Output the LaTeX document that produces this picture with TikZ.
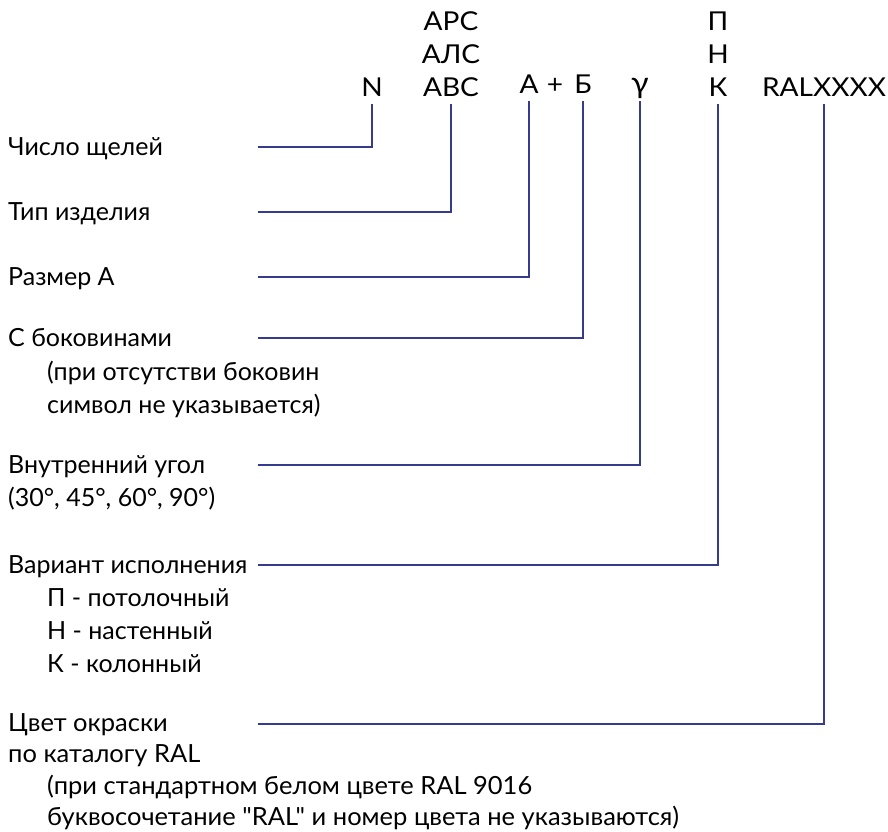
\documentclass[tikz,border=0pt]{standalone}
\usepackage{fontspec}
\setmainfont{Lato}
\newfontfamily\ralfont[FakeStretch=1.02]{Lato}
\newfontfamily\codefont[FakeStretch=1.08]{Lato}
\usetikzlibrary{positioning}
\definecolor{leadblue}{HTML}{363B8E}

\begin{document}
\begin{tikzpicture}[x=1pt,y=-1pt,
  txt/.style={anchor=base west,inner sep=0pt,font=\fontsize{25}{30}\selectfont},
  ntxt/.style={txt,font=\ralfont\fontsize{25}{30}\selectfont},
  code/.style={anchor=base,inner xsep=0pt,inner ysep=8pt,text depth=0pt,
    font=\codefont\fontsize{26}{30}\selectfont},
  lead/.style={draw=leadblue,line width=2.2pt}]
  \useasboundingbox (0,0) rectangle (888,831);

  % code on top
  \node[code] (nN) at (372,96) {N};
  \node[code] (nT3) at (451,96) {АВС};
  \node[code] (nT2) at (451,63) {АЛС};
  \node[code] (nT1) at (451,30) {АРС};
  \node[code] (nA) at (529,93) {А};
  \node[code] (nPlus) at (555,93) {+};
  \node[code] (nB) at (583,93) {Б};
  \node[code,font=\codefont\fontsize{30}{30}\selectfont] (nG) at (640,93) {γ};
  \node[code] (nK) at (718,96) {К};
  \node[code] (nH) at (718,63) {Н};
  \node[code] (nP) at (718,30) {П};
  \node[code] (nRAL) at (824,96) {RALXXXX};

  % explanations
  \node[txt] (l1) at (8,155) {Число щелей};
  \node[txt] (l2) at (8,220) {Тип изделия};
  \node[txt] (l3) at (8,285) {Размер А};
  \node[txt] (l4) at (8,346) {С боковинами};
  \node[txt] (l4a) at (47,380) {(при отсутстви боковин};
  \node[txt] (l4b) at (47,413) {символ не указывается)};
  \node[txt] (l5) at (8,473) {Внутренний угол};
  \node[txt] (l5a) at (8,506) {(30°, 45°, 60°, 90°)};
  \node[txt] (l6) at (8,573) {Вариант исполнения};
  \node[txt] (l6a) at (47,606) {П - потолочный};
  \node[txt] (l6b) at (47,639) {Н - настенный};
  \node[txt] (l6c) at (47,672) {К - колонный};
  \node[ntxt] (l7) at (8,731) {Цвет окраски};
  \node[ntxt] (l7a) at (8,762) {по каталогу RAL};
  \node[ntxt] (l7b) at (47,794) {(при стандартном белом цвете RAL 9016};
  \node[ntxt] (l7c) at (47,825) {буквосочетание "RAL" и номер цвета не указываются)};

  % leads
  \coordinate (c1) at (258,147);
  \coordinate (c2) at (258,212);
  \coordinate (c3) at (258,277);
  \coordinate (c4) at (258,338);
  \coordinate (c5) at (258,465);
  \coordinate (c6) at (258,565);
  \coordinate (c7) at (258,724);
  \draw[lead] (c1) -| (nN.south);
  \draw[lead] (c2) -| (nT3.south);
  \draw[lead] (c3) -| (nA.south);
  \draw[lead] (c4) -| (nB.south);
  \draw[lead] (c5) -| (nG.south);
  \draw[lead] (c6) -| (nK.south);
  \draw[lead] (c7) -| (nRAL.south);
\end{tikzpicture}
\end{document}
